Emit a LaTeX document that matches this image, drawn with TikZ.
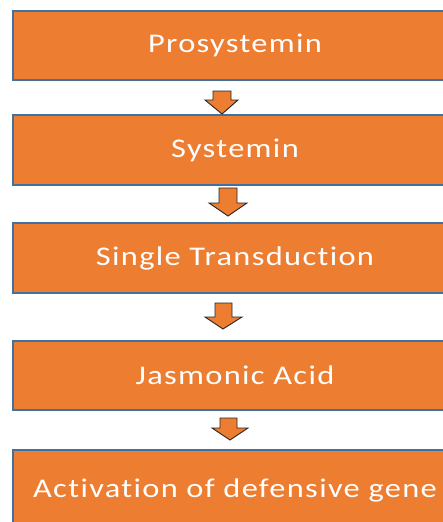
\documentclass[tikz,border=0pt]{standalone}
\usepackage{fontspec}
\setmainfont{Carlito}
\newfontfamily\boxfont[FakeStretch=1.2, LetterSpace=5, Ligatures={NoCommon,NoDiscretionary}]{Carlito}
\definecolor{boxorange}{HTML}{ED7D31}
\definecolor{boxborder}{HTML}{41719C}
\tikzset{
  flowbox/.style={draw=boxborder, line width=1.3pt, fill=boxorange, minimum width=444pt,
    inner sep=0pt, text=white, font=\boxfont\fontsize{27}{32}\selectfont},
  blockarrow/.style={draw=black!85, line width=0.9pt, fill=boxorange, line join=miter}
}
\newcommand{\barrow}[8]{%
  % #1 shaft left, #2 shaft right, #3 head left, #4 head right, #5 top, #6 head start, #7 tip x, #8 tip y
  \draw[blockarrow] (#1,#5) -- (#2,#5) -- (#2,#6) -- (#4,#6) -- (#7,#8) -- (#3,#6) -- (#1,#6) -- cycle;}
\begin{document}
\begin{tikzpicture}[x=1pt,y=-1pt]
\useasboundingbox (0,0) rectangle (443,522);
\clip (0,0) rectangle (443,522);
\node[flowbox, minimum height=69pt] (b1) at (235,45.5) {Prosystemin};
\node[flowbox, minimum height=70pt] (b2) at (235,150) {Systemin};
\node[flowbox, minimum height=70pt] (b3) at (235,258) {Single Transduction};
\node[flowbox, minimum height=69pt] (b4) at (235,375.5) {Jasmonic Acid};
\node[flowbox, minimum height=100pt] (b5) at (235,500) {};
\node[text=white, font=\boxfont\fontsize{27}{32}\selectfont, inner sep=0pt] (t5) at (235,490) {Activation of defensive gene};
\barrow{213}{231}{205}{238}{91}{100}{222}{114}
\barrow{219}{237}{209}{247}{188}{203}{228}{216}
\barrow{215}{232}{205}{242}{303}{317}{223}{329}
\barrow{220}{237}{212}{248}{418}{428}{230}{440}
\end{tikzpicture}
\end{document}
